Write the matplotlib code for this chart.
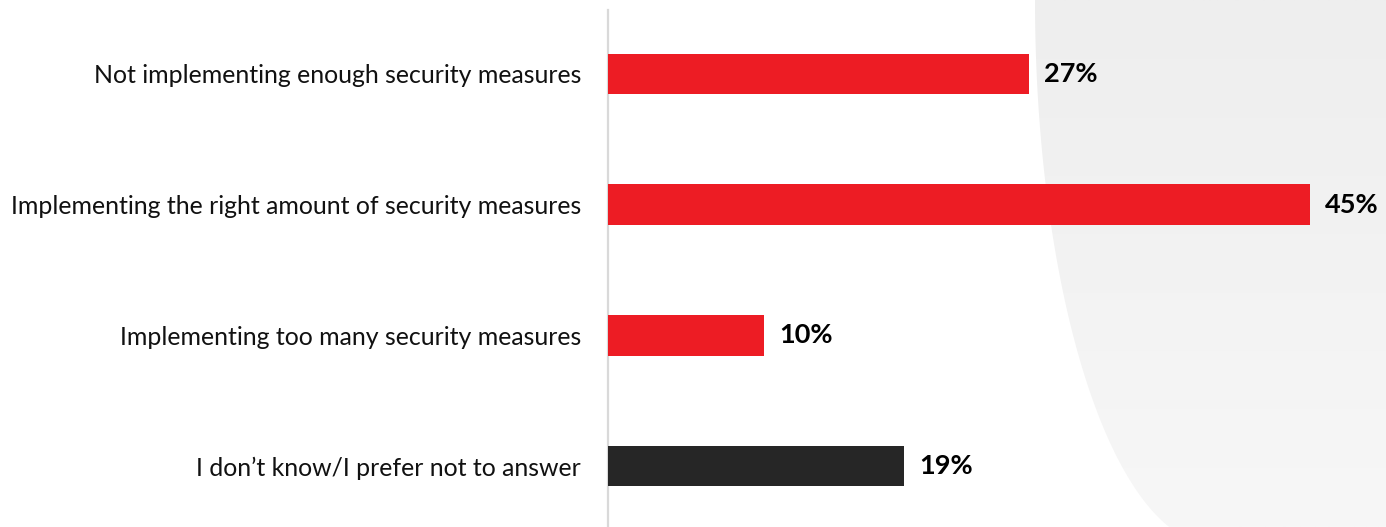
import matplotlib
matplotlib.use("Agg")
import matplotlib.pyplot as plt
import numpy as np
from matplotlib.patches import Polygon

categories = [
    "Not implementing enough security measures",
    "Implementing the right amount of security measures",
    "Implementing too many security measures",
    "I don\u2019t know/I prefer not to answer",
]
values = [27, 45, 10, 19]
colors = ["#ED1C24", "#ED1C24", "#ED1C24", "#262626"]
value_labels = ["27%", "45%", "10%", "19%"]

plt.rcParams['font.family'] = ['Lato', 'DejaVu Sans']

W, H = 1386, 527
fig = plt.figure(figsize=(W / 100, H / 100), dpi=100)

# background decoration: light gray curved region with gradient
bg = fig.add_axes([0, 0, 1, 1])
bg.set_xlim(0, W)
bg.set_ylim(H, 0)
bg.axis('off')
grad = np.linspace(0, 1, 256).reshape(-1, 1)
cmap = matplotlib.colors.LinearSegmentedColormap.from_list('g', ['#eeeeee', '#f7f7f7'])
im = bg.imshow(grad, extent=[1000, W, H, 0], cmap=cmap, aspect='auto', zorder=0)
yy = np.linspace(0, H, 200)
xx = 1035 + 180 * (1 - np.sqrt(np.clip(1 - (yy / 545.0) ** 2, 0, 1)))
verts = np.column_stack([np.concatenate([xx, [W + 5, W + 5]]),
                         np.concatenate([yy, [H, 0]])])
poly = Polygon(verts, closed=True, transform=bg.transData, facecolor='none', edgecolor='none')
bg.add_patch(poly)
im.set_clip_path(poly)

ax = fig.add_axes([608 / W, 0, (W - 608) / W, (H - 10) / H])
ax.patch.set_alpha(0)
y = np.arange(len(categories))
ax.barh(y, values, height=0.31, color=colors, zorder=3)
ax.set_xlim(0, (W - 608) / 15.6)
ax.set_ylim(3.466, -0.489)
ax.set_yticks(y)
ax.set_yticklabels(categories, fontsize=17.9, color='#111111')
ax.tick_params(axis='y', length=0, pad=19.5)
ax.set_xticks([])
for s in ['top', 'right', 'bottom']:
    ax.spines[s].set_visible(False)
ax.spines['left'].set_color('#d9d9d9')
ax.spines['left'].set_linewidth(1.6)

for yi, v, lab in zip(y, values, value_labels):
    ax.annotate(lab, xy=(v, yi), xytext=(15, 0), textcoords='offset pixels',
                va='center', ha='left', fontsize=19.5, fontweight='bold', color='#000000')

fig.savefig('out.png', dpi=100)
